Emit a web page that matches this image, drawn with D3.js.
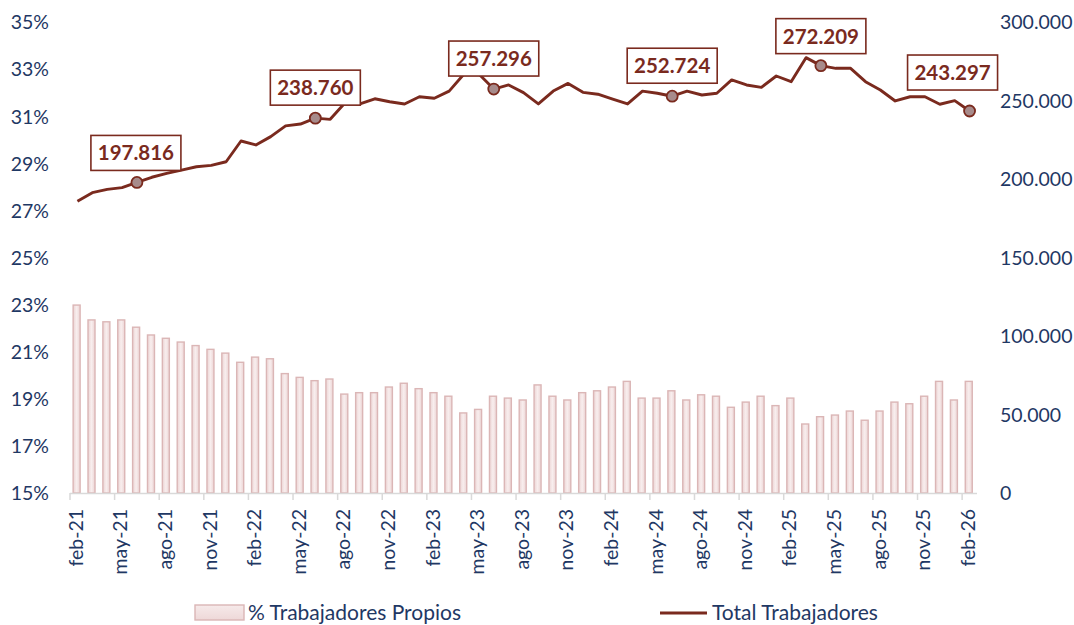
<!DOCTYPE html>
<html>
<head>
<meta charset="utf-8">
<script src="https://cdn.jsdelivr.net/npm/d3@7"></script>
<style>
  body { margin: 0; background: #ffffff; }
  svg { display: block; }
  text { font-family: Lato, "Open Sans", "Liberation Sans", sans-serif; }
</style>
</head>
<body>
<svg id="chart" width="1074" height="625"></svg>
<script>
// ---------------- DATA ----------------
const months = [
  "feb-21","mar-21","abr-21","may-21","jun-21","jul-21","ago-21","sep-21","oct-21","nov-21","dic-21",
  "ene-22","feb-22","mar-22","abr-22","may-22","jun-22","jul-22","ago-22","sep-22","oct-22","nov-22","dic-22",
  "ene-23","feb-23","mar-23","abr-23","may-23","jun-23","jul-23","ago-23","sep-23","oct-23","nov-23","dic-23",
  "ene-24","feb-24","mar-24","abr-24","may-24","jun-24","jul-24","ago-24","sep-24","oct-24","nov-24","dic-24",
  "ene-25","feb-25","mar-25","abr-25","may-25","jun-25","jul-25","ago-25","sep-25","oct-25","nov-25","dic-25",
  "ene-26","feb-26"
];

// % Trabajadores Propios (left axis, %)
const pctPropios = [
  22.98, 22.35, 22.27, 22.35, 22.04, 21.71, 21.57, 21.41, 21.26, 21.10, 20.94,
  20.55, 20.77, 20.70, 20.07, 19.91, 19.77, 19.84, 19.20, 19.26, 19.26, 19.50, 19.66,
  19.43, 19.26, 19.11, 18.40, 18.55, 19.11, 19.03, 18.95, 19.59, 19.11, 18.95, 19.26,
  19.34, 19.50, 19.74, 19.03, 19.03, 19.34, 18.95, 19.17, 19.11, 18.64, 18.86, 19.11,
  18.71, 19.03, 17.93, 18.24, 18.31, 18.48, 18.09, 18.48, 18.86, 18.79, 19.11, 19.74,
  18.95, 19.74
];

// Total Trabajadores (right axis)
const totalTrabajadores = [
  185800, 191300, 193400, 194500, 197816, 201100, 203600, 205700, 207800, 208700, 211000,
  224200, 221700, 227000, 233800, 235000, 238760, 238000, 248600, 247800, 251100, 249200, 247800,
  252400, 251400, 256000, 266900, 266900, 257296, 259900, 255000, 247800, 256000, 260900, 255200,
  254000, 250800, 247800, 256000, 254600, 252724, 256000, 253500, 254600, 263100, 259900, 258400,
  265600, 262000, 277300, 272209, 270500, 270500, 262000, 256700, 249700, 252400, 252400, 247600,
  249900, 243297
];

const leftTicks  = [15, 17, 19, 21, 23, 25, 27, 29, 31, 33, 35];
const rightTicks = [0, 50000, 100000, 150000, 200000, 250000, 300000];
const xTickLabels = [
  "feb-21","may-21","ago-21","nov-21","feb-22","may-22","ago-22","nov-22","feb-23","may-23","ago-23",
  "nov-23","feb-24","may-24","ago-24","nov-24","feb-25","may-25","ago-25","nov-25","feb-26"
];
const labeledMonths = ["jun-21","jun-22","jun-23","jun-24","abr-25","feb-26"];
const seriesNames = ["% Trabajadores Propios", "Total Trabajadores"];

// ---------------- STYLE / LAYOUT ----------------
const plot = { left: 70, right: 977, top: 22, bottom: 493 };
const navy = "#1f3864";
const lineColor = "#7a2a1e";
const labelOffsets = {           // box centre dx, box bottom dy relative to the point
  "jun-21": [-1, -12], "jun-22": [0, -13], "jun-23": [0, -13],
  "jun-24": [0, -13], "abr-25": [0, -12], "feb-26": [-17, -21]
};

const svg = d3.select("#chart");
const defs = svg.append("defs");
const gBar = defs.append("linearGradient").attr("id", "barGrad")
  .attr("x1", "0").attr("x2", "1").attr("y1", "0").attr("y2", "0");
gBar.append("stop").attr("offset", "0%").attr("stop-color", "#ecd4d4");
gBar.append("stop").attr("offset", "50%").attr("stop-color", "#f8eeee");
gBar.append("stop").attr("offset", "100%").attr("stop-color", "#ecd4d4");
const gLeg = defs.append("linearGradient").attr("id", "legGrad")
  .attr("x1", "0").attr("x2", "0").attr("y1", "0").attr("y2", "1");
gLeg.append("stop").attr("offset", "0%").attr("stop-color", "#f6eaea");
gLeg.append("stop").attr("offset", "100%").attr("stop-color", "#eed8d8");

const x = d3.scaleBand().domain(months).range([plot.left, plot.right]).padding(0);
const bw = x.bandwidth();
const yL = d3.scaleLinear().domain([15, 35]).range([plot.bottom, plot.top]);
const yR = d3.scaleLinear().domain([0, 300000]).range([plot.bottom, plot.top]);
const fmtThousands = d3.formatLocale({ decimal: ",", thousands: ".", grouping: [3], currency: ["", ""] }).format(",.0f");
const cx = m => x(m) + bw / 2;

// Left axis
const leftAxis = d3.axisLeft(yL).tickValues(leftTicks).tickSize(0).tickPadding(0)
  .tickFormat(d => d + "%");
const gl = svg.append("g").attr("transform", `translate(${49},0)`).call(leftAxis);
gl.select(".domain").remove();
gl.selectAll("text").attr("fill", navy).style("font-size", "19.5px").attr("dy", "0.35em");

// Right axis
const rightAxis = d3.axisRight(yR).tickValues(rightTicks).tickSize(0).tickPadding(0)
  .tickFormat(d => fmtThousands(d));
const gr = svg.append("g").attr("transform", `translate(${1000},0)`).call(rightAxis);
gr.select(".domain").remove();
gr.selectAll("text").attr("fill", navy).style("font-size", "19.5px").attr("dy", "0.35em");

// Bars
const barW = 7;
svg.append("g").selectAll("rect").data(months).join("rect")
  .attr("x", (m) => cx(m) - barW / 2 - 0.8)
  .attr("y", (m, i) => yL(pctPropios[i]))
  .attr("width", barW)
  .attr("height", (m, i) => yL(15) - yL(pctPropios[i]))
  .attr("fill", "url(#barGrad)")
  .attr("stroke", "#dbb6b6")
  .attr("stroke-width", 1.4);

// X axis line and ticks
const gx = svg.append("g");
gx.append("line").attr("x1", plot.left).attr("x2", plot.right)
  .attr("y1", plot.bottom + 0.5).attr("y2", plot.bottom + 0.5)
  .attr("stroke", "#d9d9d9").attr("stroke-width", 1.5);
gx.selectAll("line.tick").data(months.filter((m, i) => i % 3 === 0)).join("line")
  .attr("class", "tick")
  .attr("x1", m => x(m)).attr("x2", m => x(m))
  .attr("y1", plot.bottom).attr("y2", plot.bottom + 7)
  .attr("stroke", "#d9d9d9").attr("stroke-width", 1.5);
gx.selectAll("text").data(xTickLabels).join("text")
  .attr("transform", m => `translate(${cx(m) - 1.5},${509}) rotate(-90)`)
  .attr("text-anchor", "end")
  .attr("dy", "0.35em")
  .attr("fill", navy)
  .style("font-size", "19.5px")
  .text(d => d);

// Line
const line = d3.line().x(m => cx(m)).y((m, i) => yR(totalTrabajadores[i]));
svg.append("path").datum(months)
  .attr("d", line)
  .attr("fill", "none")
  .attr("stroke", lineColor)
  .attr("stroke-width", 2.9)
  .attr("stroke-linejoin", "round");

// Markers + labels
const labeled = labeledMonths.map(m => ({ m, v: totalTrabajadores[months.indexOf(m)] }));
svg.append("g").selectAll("circle").data(labeled).join("circle")
  .attr("cx", d => cx(d.m)).attr("cy", d => yR(d.v)).attr("r", 5.5)
  .attr("fill", "#a78b8b").attr("stroke", lineColor).attr("stroke-width", 1.8);

const boxW = 90, boxH = 35;
const gLab = svg.append("g").selectAll("g").data(labeled).join("g")
  .attr("transform", d => {
    const [dx, dy] = labelOffsets[d.m];
    return `translate(${cx(d.m) + dx},${yR(d.v) + dy - boxH / 2})`;
  });
gLab.append("rect")
  .attr("x", -boxW / 2).attr("y", -boxH / 2).attr("width", boxW).attr("height", boxH)
  .attr("fill", "#ffffff").attr("stroke", lineColor).attr("stroke-width", 1.6);
gLab.append("text")
  .attr("text-anchor", "middle").attr("dy", "0.36em")
  .attr("fill", lineColor).style("font-size", "20.5px").style("font-weight", "bold")
  .text(d => fmtThousands(d.v));

// Legend
const leg = svg.append("g");
leg.append("rect").attr("x", 195).attr("y", 605).attr("width", 49).attr("height", 15)
  .attr("fill", "url(#legGrad)").attr("stroke", "#dbb6b6").attr("stroke-width", 1.4);
leg.append("text").attr("x", 248).attr("y", 613).attr("dy", "0.35em")
  .attr("fill", navy).style("font-size", "21px").text(seriesNames[0]);
leg.append("line").attr("x1", 660).attr("x2", 707).attr("y1", 613).attr("y2", 613)
  .attr("stroke", lineColor).attr("stroke-width", 2.9);
leg.append("text").attr("x", 712).attr("y", 613).attr("dy", "0.35em")
  .attr("fill", navy).style("font-size", "21px").text(seriesNames[1]);
</script>
</body>
</html>
